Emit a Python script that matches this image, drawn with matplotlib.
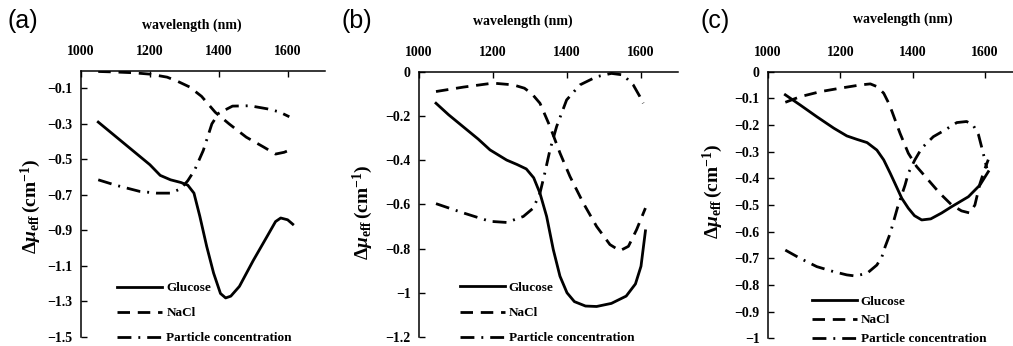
import matplotlib
matplotlib.use("Agg")
from matplotlib import pyplot as plt

plt.rcParams['font.family'] = ['Liberation Serif', 'DejaVu Serif']
plt.rcParams['font.weight'] = 'bold'
plt.rcParams['mathtext.fontset'] = 'custom'
plt.rcParams['mathtext.rm'] = 'Liberation Serif:bold'
plt.rcParams['mathtext.it'] = 'Liberation Serif:italic:bold'
plt.rcParams['mathtext.bf'] = 'Liberation Serif:bold'

# ---- data ----
# (a)
a_glu_wl = [1050, 1100, 1150, 1200, 1230, 1260, 1290, 1310, 1328, 1345, 1365, 1385, 1405, 1420,
            1435, 1460, 1500, 1540, 1565, 1580, 1600, 1615]
a_glu = [-0.29, -0.37, -0.45, -0.53, -0.59, -0.615, -0.63, -0.645, -0.69, -0.82, -0.99, -1.14,
         -1.255, -1.28, -1.27, -1.215, -1.07, -0.935, -0.85, -0.83, -0.84, -0.865]
a_nacl_wl = [1050, 1100, 1150, 1200, 1250, 1280, 1315, 1350, 1390, 1430, 1480, 1530, 1565, 1590, 1615]
a_nacl = [-0.005, -0.008, -0.012, -0.02, -0.037, -0.06, -0.092, -0.145, -0.235, -0.3, -0.375,
          -0.43, -0.47, -0.46, -0.44]
a_part_wl = [1050, 1100, 1170, 1220, 1260, 1290, 1310, 1330, 1355, 1380, 1400, 1440, 1490, 1540, 1575, 1605]
a_part = [-0.615, -0.645, -0.68, -0.69, -0.69, -0.665, -0.62, -0.56, -0.45, -0.3, -0.24, -0.2,
          -0.198, -0.215, -0.232, -0.26]

# (b)
b_glu_wl = [1046, 1080, 1120, 1160, 1192, 1237, 1265, 1290, 1310, 1327, 1345, 1363, 1381, 1400,
            1420, 1450, 1480, 1520, 1560, 1585, 1600, 1612]
b_glu = [-0.143, -0.195, -0.25, -0.305, -0.354, -0.40, -0.42, -0.44, -0.48, -0.55, -0.655, -0.805,
         -0.925, -1.0, -1.04, -1.06, -1.062, -1.048, -1.015, -0.96, -0.88, -0.72]
b_nacl_wl = [1046, 1120, 1200, 1255, 1285, 1305, 1327, 1354, 1381, 1408, 1444, 1480, 1516, 1543,
             1566, 1588, 1612]
b_nacl = [-0.09, -0.07, -0.052, -0.06, -0.075, -0.1, -0.143, -0.248, -0.368, -0.474, -0.594, -0.70,
          -0.782, -0.81, -0.79, -0.715, -0.617]
b_part_wl = [1046, 1120, 1192, 1237, 1282, 1309, 1327, 1340, 1354, 1372, 1399, 1435, 1480, 1520,
             1552, 1579, 1597, 1606]
b_part = [-0.597, -0.639, -0.677, -0.682, -0.655, -0.617, -0.549, -0.459, -0.354, -0.248, -0.128,
          -0.06, -0.023, -0.008, -0.015, -0.06, -0.113, -0.143]

# (c)
c_glu_wl = [1048, 1089, 1135, 1182, 1218, 1246, 1274, 1301, 1320, 1338, 1351, 1370, 1388, 1405,
            1425, 1450, 1480, 1508, 1554, 1586, 1609]
c_glu = [-0.087, -0.125, -0.169, -0.212, -0.241, -0.254, -0.266, -0.294, -0.331, -0.381, -0.419,
         -0.475, -0.512, -0.54, -0.556, -0.552, -0.53, -0.506, -0.469, -0.425, -0.375]
c_nacl_wl = [1048, 1089, 1145, 1200, 1255, 1283, 1301, 1320, 1334, 1343, 1365, 1388, 1411, 1443,
             1475, 1508, 1535, 1558, 1572, 1586, 1598, 1609]
c_nacl = [-0.115, -0.094, -0.075, -0.062, -0.05, -0.046, -0.056, -0.081, -0.119, -0.15, -0.231,
          -0.306, -0.356, -0.406, -0.456, -0.5, -0.522, -0.53, -0.5, -0.42, -0.37, -0.33]
c_part_wl = [1048, 1089, 1135, 1182, 1218, 1241, 1274, 1301, 1315, 1324, 1338, 1358, 1379, 1388,
             1406, 1425, 1457, 1489, 1522, 1549, 1567, 1582, 1595, 1605]
c_part = [-0.669, -0.70, -0.731, -0.75, -0.762, -0.766, -0.756, -0.725, -0.694, -0.656, -0.606,
          -0.51, -0.425, -0.381, -0.331, -0.287, -0.244, -0.219, -0.191, -0.187, -0.2, -0.237,
          -0.306, -0.362]

x_ticks = [1000, 1200, 1400, 1600]
a_yticks = [-0.1, -0.3, -0.5, -0.7, -0.9, -1.1, -1.3, -1.5]
a_ylabels = ['−0.1', '−0.3', '−0.5', '−0.7', '−0.9', '−1.1', '−1.3', '−1.5']
b_yticks = [0, -0.2, -0.4, -0.6, -0.8, -1.0, -1.2]
b_ylabels = ['0', '−0.2', '−0.4', '−0.6', '−0.8', '−1', '−1.2']
c_yticks = [0, -0.1, -0.2, -0.3, -0.4, -0.5, -0.6, -0.7, -0.8, -0.9, -1.0]
c_ylabels = ['0', '−0.1', '−0.2', '−0.3', '−0.4', '−0.5', '−0.6', '−0.7', '−0.8', '−0.9', '−1']
series_names = ['Glucose', 'NaCl', 'Particle concentration']

LW = 2.0
DASH = (0, (4.5, 2.8))
DASHDOT = (0, (5, 2.5, 0.7, 2.5))

fig = plt.figure(figsize=(10.13, 3.46), dpi=100)

panels = [
    dict(rect=[0.0800, 0.026, 0.2413, 0.770],
         data=[(a_glu_wl, a_glu), (a_nacl_wl, a_nacl), (a_part_wl, a_part)],
         yt=a_yticks, yl=a_ylabels, ylim=(-1.5, 0), xlim=(1000, 1710),
         letter='(a)', lx=0.023, xl=(0.452, 1.17), yp=(-0.205, 0.49),
         leg=(0.149, -0.028), sp=0.98),
    dict(rect=[0.4136, 0.026, 0.2557, 0.767],
         data=[(b_glu_wl, b_glu), (b_nacl_wl, b_nacl), (b_part_wl, b_part)],
         yt=b_yticks, yl=b_ylabels, ylim=(-1.2, 0), xlim=(1000, 1700),
         letter='(b)', lx=0.352, xl=(0.40, 1.19), yp=(-0.218, 0.47),
         leg=(0.158, -0.028), sp=0.98),
    dict(rect=[0.7581, 0.022, 0.2500, 0.771],
         data=[(c_glu_wl, c_glu), (c_nacl_wl, c_nacl), (c_part_wl, c_part)],
         yt=c_yticks, yl=c_ylabels, ylim=(-1.0, 0), xlim=(1000, 1700),
         letter='(c)', lx=0.706, xl=(0.534, 1.195), yp=(-0.219, 0.55),
         leg=(0.173, -0.026), sp=0.5),
]

styles = ['-', DASH, DASHDOT]

for p in panels:
    ax = fig.add_axes(p['rect'])
    for (wl, val), ls, name in zip(p['data'], styles, series_names):
        ax.plot(wl, val, color='black', lw=LW, linestyle=ls, label=name)
    ax.set_xlim(*p['xlim'])
    ax.set_ylim(*p['ylim'])
    ax.spines['right'].set_visible(False)
    ax.spines['bottom'].set_visible(False)
    ax.spines['left'].set_linewidth(1.1)
    ax.spines['top'].set_linewidth(1.1)
    ax.xaxis.tick_top()
    ax.set_xticks(x_ticks)
    ax.set_xticklabels([str(t) for t in x_ticks])
    ax.set_yticks(p['yt'])
    ax.set_yticklabels(p['yl'])
    ax.tick_params(axis='x', direction='in', length=4, width=1, pad=9, labelsize=10,
                   top=True, bottom=False)
    ax.tick_params(axis='y', direction='in', length=4, width=1, pad=6, labelsize=10)
    for lab in ax.get_xticklabels() + ax.get_yticklabels():
        lab.set_fontweight('bold')

    ax.text(p['xl'][0], p['xl'][1], 'wavelength (nm)', transform=ax.transAxes,
            ha='center', va='center', fontsize=10, fontweight='bold')
    ax.text(p['yp'][0], p['yp'][1], r'$\Delta\mathit{\mu}_{\mathrm{eff}}\,\mathrm{(cm^{-1})}$',
            transform=ax.transAxes, rotation=90, ha='center', va='center', fontsize=14)
    fig.text(p['lx'], 1 - 21 / 346, p['letter'], ha='center', va='center',
             fontsize=18, fontweight='normal', family='Liberation Sans')

    ax.legend(loc='lower left', bbox_to_anchor=p['leg'], frameon=False, borderpad=0,
              borderaxespad=0, handlelength=3.4, handletextpad=0.3, labelspacing=p['sp'],
              prop={'family': 'Liberation Serif', 'weight': 'bold', 'size': 9.5})

fig.savefig('out.png', dpi=100)
